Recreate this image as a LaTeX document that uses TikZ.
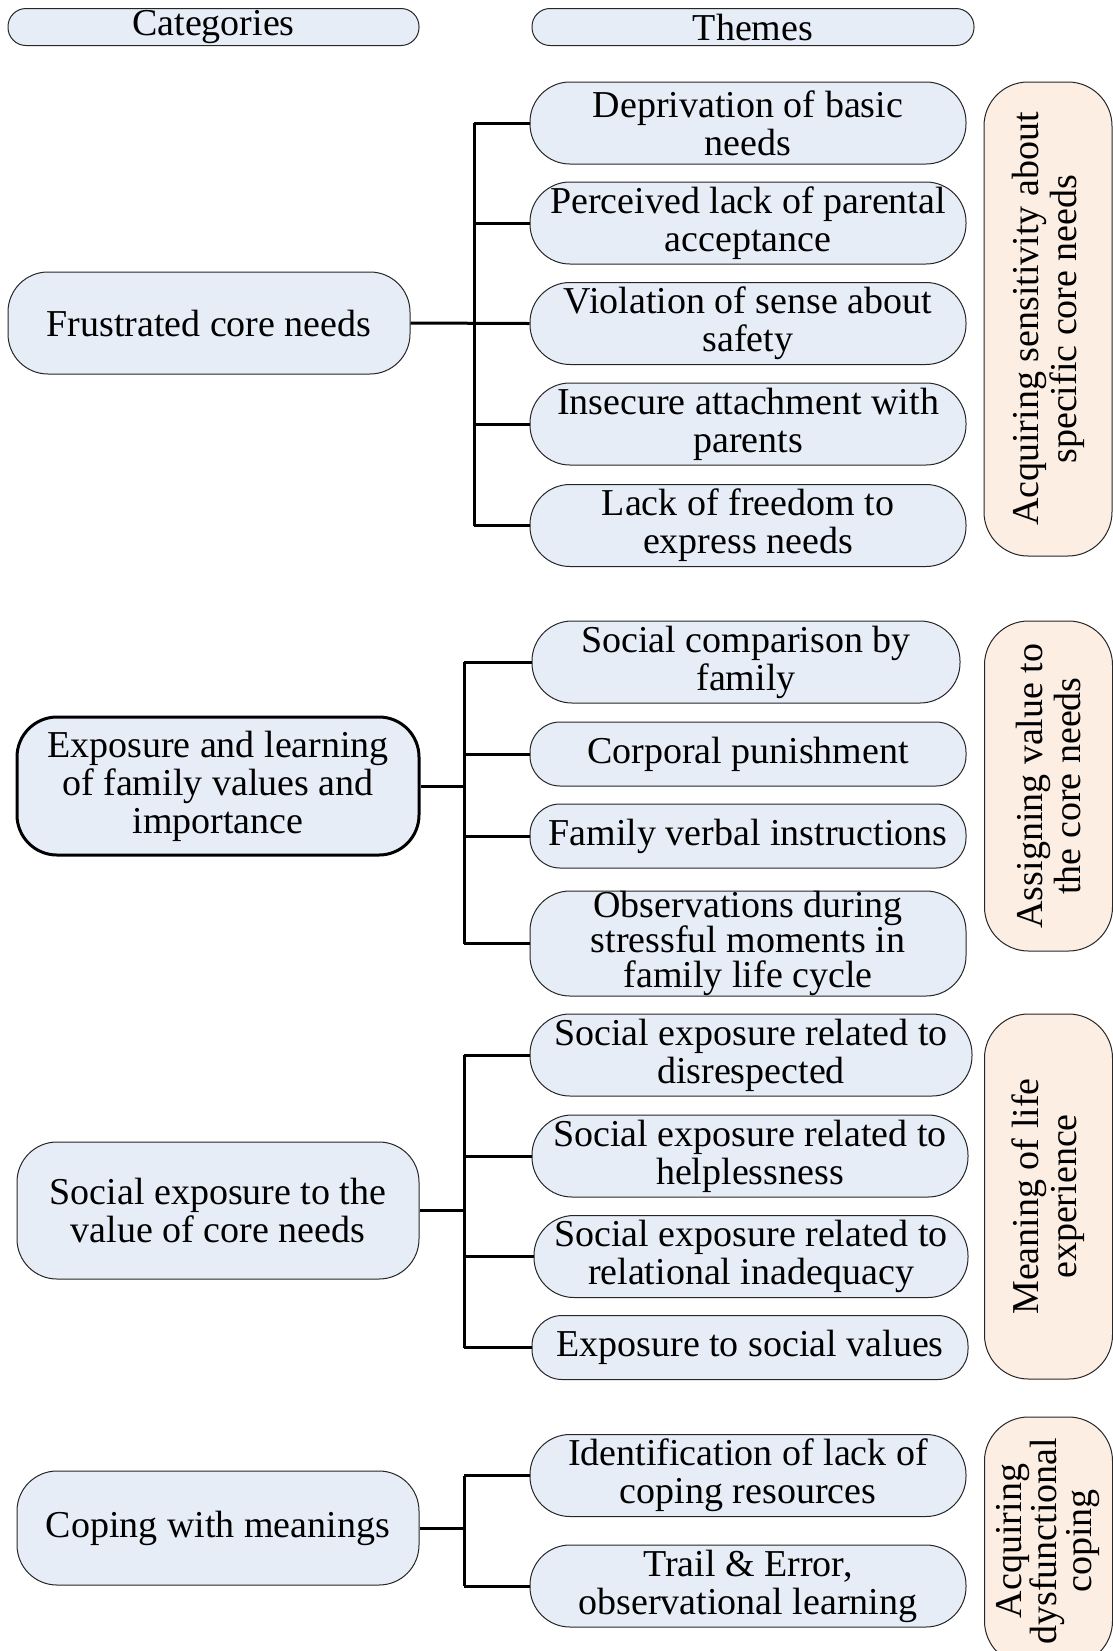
\documentclass[tikz,border=0pt]{standalone}
\usepackage{fontspec}
\setmainfont{Liberation Serif}
\usetikzlibrary{positioning}
\definecolor{themeblue}{HTML}{E7EDF7}
\definecolor{sidepeach}{HTML}{FDEEE4}

\begin{document}
\begin{tikzpicture}[x=0.5pt,y=-0.5pt,
    font=\fontsize{19}{19}\selectfont,
    box/.style={draw=black!85,line width=0.5pt,fill=themeblue,align=center,
                inner sep=0pt,rounded corners=20pt},
    head/.style={box,minimum height=18.5pt,rounded corners=9pt},
    theme/.style={box,minimum width=218pt,minimum height=41pt},
    short/.style={minimum height=32pt,rounded corners=15pt},
    cat/.style={box,minimum width=201pt},
    side/.style={box,fill=sidepeach,rotate=90,minimum height=64pt,
                 rounded corners=22pt},
    link/.style={line width=1.5pt}]
  \useasboundingbox (0,0) rectangle (1113,1651);
  \clip (0,0) rectangle (1113,1651);

  % headers
  \node[head,minimum width=205.5pt] (cathead)   at (213.5,27) {Categories};
  \node[head,minimum width=221pt]   (themehead) at (753,27)   {Themes};

  % categories
  \node[cat,minimum height=51pt]   (c1) at (209,323)    {Frustrated core needs};
  \node[cat,minimum height=69pt,line width=1.5pt,draw=black]
                                   (c2) at (218,786)    {Exposure and learning\\of family values and\\importance};
  \node[cat,minimum height=68.5pt] (c3) at (218,1210.5) {Social exposure to the\\value of core needs};
  \node[cat,minimum height=57pt]   (c4) at (218,1528)   {Coping with meanings};

  % themes
  \node[theme] (t1) at (748,123)   {Deprivation of basic\\needs};
  \node[theme] (t2) at (748,223)   {Perceived lack of parental\\acceptance};
  \node[theme] (t3) at (748,323.5) {Violation of sense about\\safety};
  \node[theme] (t4) at (748,424)   {Insecure attachment with\\parents};
  \node[theme] (t5) at (748,525.5) {Lack of freedom to\\express needs};

  \node[theme,minimum width=214pt] (t6) at (746,662) {Social comparison by\\family};
  \node[theme,short] (t7) at (748,754) {Corporal punishment};
  \node[theme,short] (t8) at (748,836) {Family verbal instructions};
  \node[theme,minimum height=52.5pt,font=\fontsize{19}{17.5}\selectfont]
               (t9) at (748,943.5) {Observations during\\stressful moments in\\family life cycle};

  \node[theme,minimum width=221pt] (t10) at (751,1055)   {Social exposure related to\\disrespected};
  \node[theme]                     (t11) at (750,1156)   {Social exposure related to\\helplessness};
  \node[theme,minimum width=217pt] (t12) at (751,1256.5) {Social exposure related to\\relational inadequacy};
  \node[theme,short]               (t13) at (750,1347.5) {Exposure to social values};

  \node[theme] (t14) at (748,1475.5) {Identification of lack of\\coping resources};
  \node[theme] (t15) at (748,1586)   {Trail \& Error,\\observational learning};

  % side labels
  \node[side,minimum width=237pt]   (s1) at (1048,319)    {Acquiring sensitivity about\\specific core needs};
  \node[side,minimum width=165pt]   (s2) at (1048.5,786)  {Assigning value to\\the core needs};
  \node[side,minimum width=182.5pt] (s3) at (1048.5,1196.5) {Meaning of life\\experience};
  \node[side,minimum width=124pt,font=\fontsize{19}{17.5}\selectfont]
                                    (s4) at (1048.5,1541) {Acquiring\\dysfunctional\\coping};

  % brackets
  \coordinate (b1) at (474,0);
  \coordinate (b2) at (464,0);
  \coordinate (b3) at (464,0);
  \coordinate (b4) at (464,0);

  \draw[link] (b1 |- t1.west) -- (b1 |- t5.west);
  \foreach \t in {t1,t2,t4,t5}
    \draw[link] (b1 |- \t.west) -- (\t.west);
  \draw[link] (c1.east) -- (t3.west);

  \draw[link] (b2 |- t6.west) -- (b2 |- t9.west);
  \foreach \t in {t6,t7,t8,t9}
    \draw[link] (b2 |- \t.west) -- (\t.west);
  \draw[link] (c2.east) -- (b2 |- c2.east);

  \draw[link] (b3 |- t10.west) -- (b3 |- t13.west);
  \foreach \t in {t10,t11,t12,t13}
    \draw[link] (b3 |- \t.west) -- (\t.west);
  \draw[link] (c3.east) -- (b3 |- c3.east);

  \draw[link] (b4 |- t14.west) -- (b4 |- t15.west);
  \foreach \t in {t14,t15}
    \draw[link] (b4 |- \t.west) -- (\t.west);
  \draw[link] (c4.east) -- (b4 |- c4.east);
\end{tikzpicture}
\end{document}
